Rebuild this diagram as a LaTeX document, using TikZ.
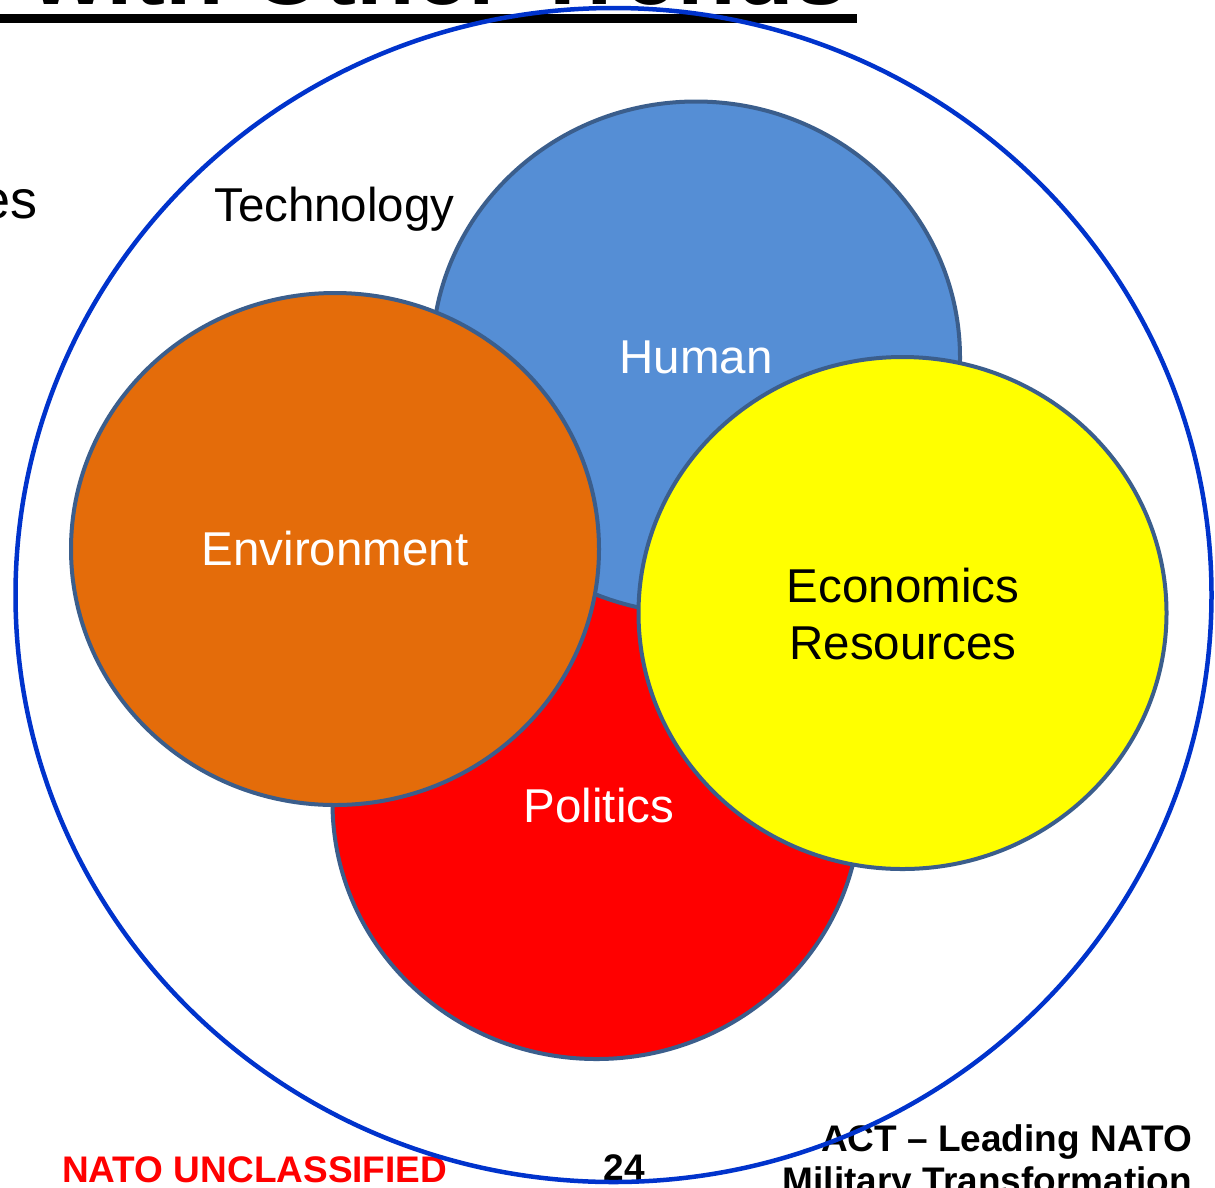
\documentclass[tikz,border=0pt]{standalone}
\usepackage{fontspec}
\setmainfont{Liberation Sans}
\definecolor{humanblue}{HTML}{558ED5}
\definecolor{envorange}{HTML}{E46C0A}
\definecolor{polred}{HTML}{FF0000}
\definecolor{ecoyellow}{HTML}{FFFF00}
\definecolor{trendedge}{HTML}{3B5E8C}
\definecolor{ringblue}{HTML}{0033CC}
\begin{document}
\begin{tikzpicture}[x=1pt,y=-1pt,
		trend/.style={draw=trendedge,line width=4pt},
		lbl/.style={inner sep=0pt,font=\fontsize{47.5}{57}\selectfont},
		foot/.style={inner sep=0pt,font=\fontsize{37}{42}\selectfont\bfseries}]
				\def\rx{264}
				\def\ry{256}
				
				\fill[white] (0,0) rectangle (1215,1187);
				\useasboundingbox (0,0) rectangle (1215,1187);
				
				\coordinate (cenh) at (696,357.5);
				\coordinate (cenp) at (596.5,803);
				\coordinate (cene) at (335,549);
				\coordinate (ceny) at (902.5,613);
				\coordinate (cenbig) at (613.5,595);
				
				% title, cut by the page
				\node[inner sep=0pt,anchor=base east,font=\fontsize{96}{110}\selectfont\bfseries] (title) at (848,4) {with Other Trends};
				\fill (0,14) rectangle (857,23);
				\node[lbl,anchor=base east,font=\fontsize{54}{60}\selectfont] (es) at (38,218) {es};
				
				\draw[trend,fill=polred] (cenp) ellipse [x radius=\rx, y radius=\ry];
				\draw[trend,fill=humanblue] (cenh) ellipse [x radius=\rx, y radius=\ry];
				\draw[trend,fill=envorange] (cene) ellipse [x radius=\rx, y radius=\ry];
				\draw[trend,fill=ecoyellow] (ceny) ellipse [x radius=\rx, y radius=\ry];
				
				\node[lbl,anchor=base west] (tech) at (214,221) {Technology};
				\node[lbl,text=white] (human) at (cenh) {Human};
				\node[lbl,text=white] (env) at (cene) {Environment};
				\node[lbl,text=white] (pol) at (599,806) {Politics};
				\node[lbl,align=center] (econ) at (903,614) {Economics\\Resources};
				
				\node[foot,text=polred,anchor=base west] (uncl) at (62,1182) {NATO UNCLASSIFIED};
				\node[foot,anchor=base] (page) at (624,1180) {24};
				\node[foot,align=right,anchor=north east] (act) at (1192,1124) {ACT – Leading NATO\\Military Transformation};
				
				\draw[ringblue,line width=4.5pt] (cenbig) ellipse [x radius=598, y radius=587];
			\end{tikzpicture}
\end{document}
